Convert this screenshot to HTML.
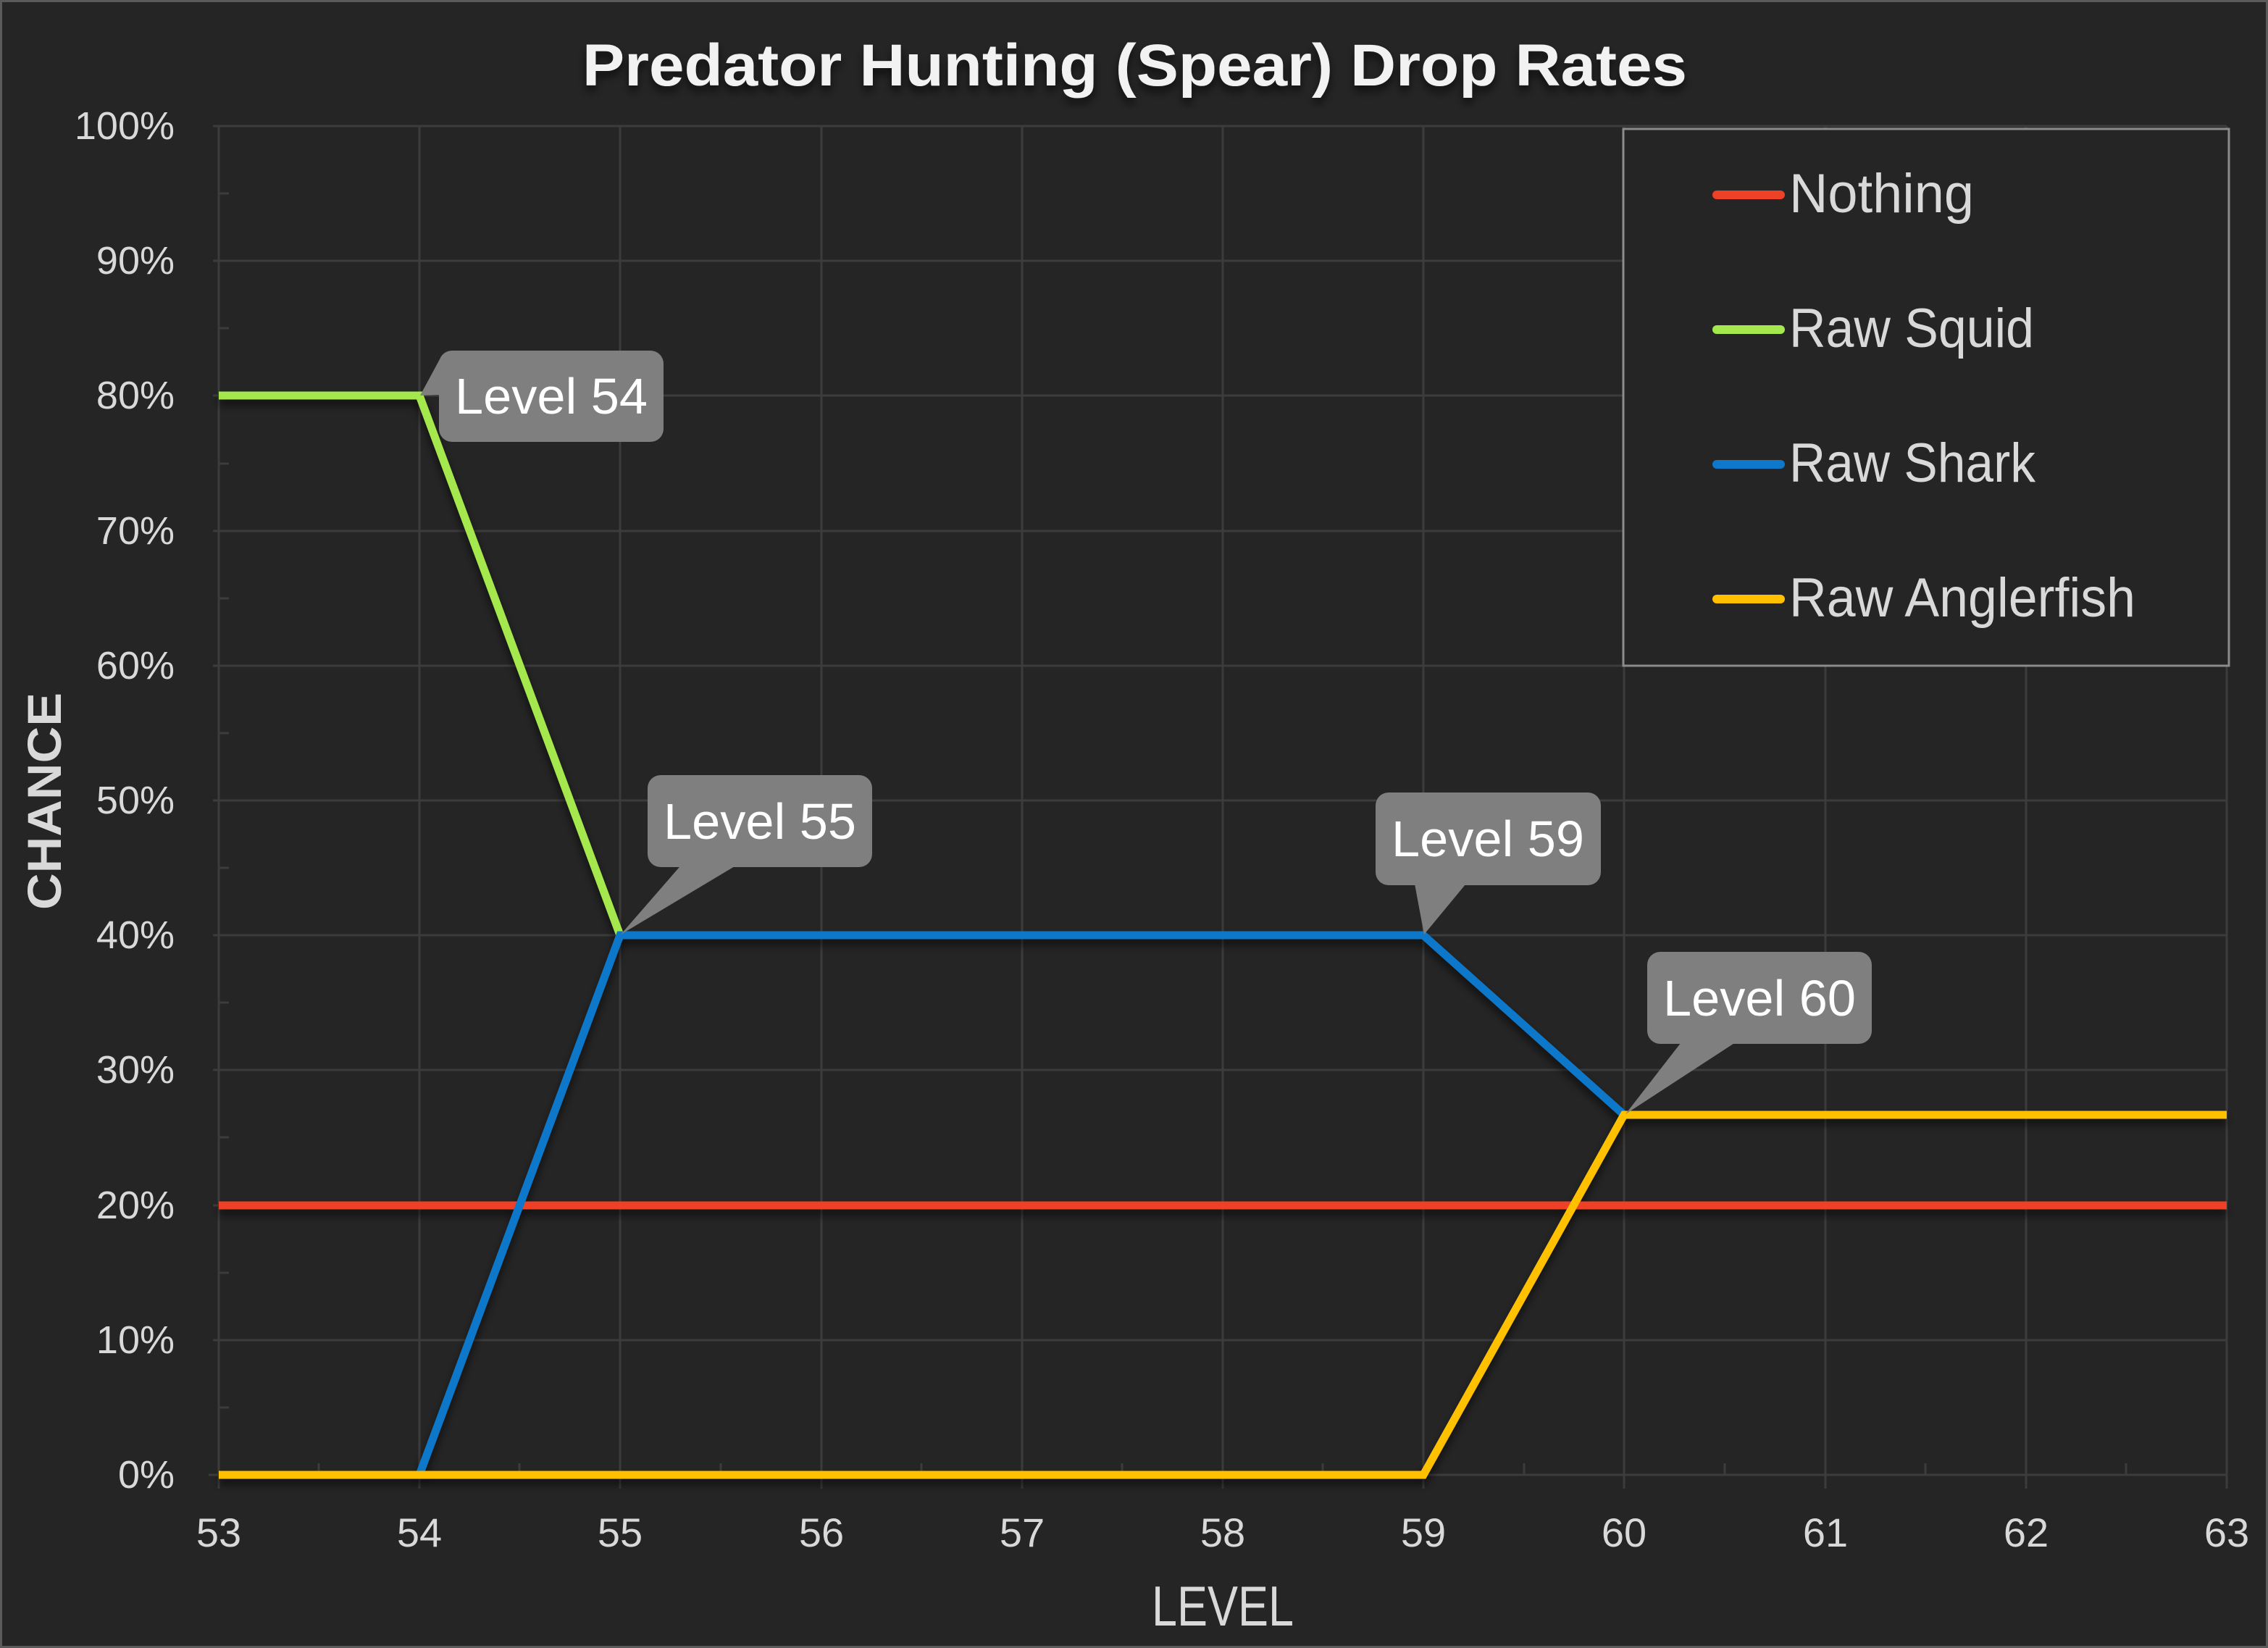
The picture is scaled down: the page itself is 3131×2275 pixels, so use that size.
<!DOCTYPE html>
<html><head><meta charset="utf-8"><style>html,body{margin:0;padding:0;background:#252525}svg{display:block}</style></head><body>
<svg width="3131" height="2275" viewBox="0 0 3131 2275" xmlns="http://www.w3.org/2000/svg" font-family="'Liberation Sans', sans-serif">
<defs><filter id="sh" x="-5%" y="-5%" width="110%" height="120%"><feDropShadow dx="0" dy="8" stdDeviation="6" flood-color="#000" flood-opacity="0.6"/></filter></defs>
<rect x="0" y="0" width="3131" height="2275" fill="#252525"/>
<rect x="1.5" y="1.5" width="3128" height="2272" fill="none" stroke="#5a5a5a" stroke-width="3"/>
<g stroke="#3c3c3c" stroke-width="3">
<line x1="294" y1="174" x2="3074" y2="174"/><line x1="294" y1="360" x2="3074" y2="360"/><line x1="294" y1="546" x2="3074" y2="546"/><line x1="294" y1="733" x2="3074" y2="733"/><line x1="294" y1="919" x2="3074" y2="919"/><line x1="294" y1="1105" x2="3074" y2="1105"/><line x1="294" y1="1291" x2="3074" y2="1291"/><line x1="294" y1="1477" x2="3074" y2="1477"/><line x1="294" y1="1664" x2="3074" y2="1664"/><line x1="294" y1="1850" x2="3074" y2="1850"/><line x1="288" y1="2036" x2="3074" y2="2036"/>
<line x1="302" y1="174" x2="302" y2="2055"/><line x1="579" y1="174" x2="579" y2="2055"/><line x1="856" y1="174" x2="856" y2="2055"/><line x1="1134" y1="174" x2="1134" y2="2055"/><line x1="1411" y1="174" x2="1411" y2="2055"/><line x1="1688" y1="174" x2="1688" y2="2055"/><line x1="1965" y1="174" x2="1965" y2="2055"/><line x1="2242" y1="174" x2="2242" y2="2055"/><line x1="2520" y1="174" x2="2520" y2="2055"/><line x1="2797" y1="174" x2="2797" y2="2055"/><line x1="3074" y1="174" x2="3074" y2="2055"/>
</g>
<g stroke="#3c3c3c" stroke-width="3">
<line x1="302" y1="267" x2="316" y2="267"/><line x1="302" y1="453" x2="316" y2="453"/><line x1="302" y1="640" x2="316" y2="640"/><line x1="302" y1="826" x2="316" y2="826"/><line x1="302" y1="1012" x2="316" y2="1012"/><line x1="302" y1="1198" x2="316" y2="1198"/><line x1="302" y1="1384" x2="316" y2="1384"/><line x1="302" y1="1570" x2="316" y2="1570"/><line x1="302" y1="1757" x2="316" y2="1757"/><line x1="302" y1="1943" x2="316" y2="1943"/>
<line x1="440" y1="2020" x2="440" y2="2036"/><line x1="717" y1="2020" x2="717" y2="2036"/><line x1="995" y1="2020" x2="995" y2="2036"/><line x1="1272" y1="2020" x2="1272" y2="2036"/><line x1="1549" y1="2020" x2="1549" y2="2036"/><line x1="1826" y1="2020" x2="1826" y2="2036"/><line x1="2104" y1="2020" x2="2104" y2="2036"/><line x1="2381" y1="2020" x2="2381" y2="2036"/><line x1="2658" y1="2020" x2="2658" y2="2036"/><line x1="2935" y1="2020" x2="2935" y2="2036"/>
</g>
<g fill="#d9d9d9" font-size="54" text-anchor="end">
<text x="241" y="192">100%</text><text x="241" y="378">90%</text><text x="241" y="564">80%</text><text x="241" y="751">70%</text><text x="241" y="937">60%</text><text x="241" y="1123">50%</text><text x="241" y="1309">40%</text><text x="241" y="1495">30%</text><text x="241" y="1682">20%</text><text x="241" y="1868">10%</text><text x="241" y="2054">0%</text>
</g>
<g fill="#d9d9d9" font-size="56" text-anchor="middle">
<text x="302" y="2135">53</text><text x="579" y="2135">54</text><text x="856" y="2135">55</text><text x="1134" y="2135">56</text><text x="1411" y="2135">57</text><text x="1688" y="2135">58</text><text x="1965" y="2135">59</text><text x="2242" y="2135">60</text><text x="2520" y="2135">61</text><text x="2797" y="2135">62</text><text x="3074" y="2135">63</text>
</g>
<text x="804" y="118" font-size="82" font-weight="bold" fill="#f2f2f2" textLength="1525" lengthAdjust="spacingAndGlyphs" filter="url(#sh)">Predator Hunting (Spear) Drop Rates</text>
<text x="1688" y="2244" font-size="78" fill="#d9d9d9" text-anchor="middle" textLength="196" lengthAdjust="spacingAndGlyphs">LEVEL</text>
<text transform="translate(84,1106) rotate(-90)" font-size="66" font-weight="bold" fill="#d9d9d9" text-anchor="middle" textLength="300" lengthAdjust="spacingAndGlyphs">CHANCE</text>
<g fill="none" stroke-width="11" stroke-linejoin="miter" filter="url(#sh)">
<polyline stroke="#EE4125" points="302,1664 3074,1664"/>
<polyline stroke="#A5E84E" points="302,546 579,546 856,1291 1965,1291"/>
<polyline stroke="#0E78CA" points="302,2036 579,2036 856,1291 1965,1291 2242,1539 3074,1539"/>
<polyline stroke="#FFC000" points="302,2036 1965,2036 2242,1539 3074,1539"/>
</g>
<g fill="#7f7f7f">
<rect x="606" y="484" width="310" height="126" rx="18"/><polygon points="607,496 607,545 580,546"/>
<rect x="894" y="1070" width="310" height="127" rx="18"/><polygon points="944,1190 1024,1190 857,1290"/>
<rect x="1899" y="1094" width="311" height="128" rx="18"/><polygon points="1952,1215 2028,1215 1966,1290"/>
<rect x="2274" y="1314" width="310" height="127" rx="18"/><polygon points="2324,1435 2402,1435 2244,1538"/>
</g>
<g fill="#ffffff" font-size="70" text-anchor="middle">
<text x="761" y="571" textLength="266" lengthAdjust="spacingAndGlyphs">Level 54</text>
<text x="1049" y="1158" textLength="266" lengthAdjust="spacingAndGlyphs">Level 55</text>
<text x="2054" y="1182" textLength="266" lengthAdjust="spacingAndGlyphs">Level 59</text>
<text x="2429" y="1402" textLength="266" lengthAdjust="spacingAndGlyphs">Level 60</text>
</g>
<rect x="2241" y="178" width="836" height="741" fill="#252525" stroke="#8c8c8c" stroke-width="3"/>
<g stroke-width="12" stroke-linecap="round">
<line x1="2370" y1="269" x2="2458" y2="269" stroke="#EE4125"/>
<line x1="2370" y1="455" x2="2458" y2="455" stroke="#A5E84E"/>
<line x1="2370" y1="641" x2="2458" y2="641" stroke="#0E78CA"/>
<line x1="2370" y1="827" x2="2458" y2="827" stroke="#FFC000"/>
</g>
<g fill="#d9d9d9" font-size="76">
<text x="2470" y="293" textLength="255" lengthAdjust="spacingAndGlyphs">Nothing</text>
<text x="2470" y="479" textLength="338" lengthAdjust="spacingAndGlyphs">Raw Squid</text>
<text x="2470" y="665" textLength="340" lengthAdjust="spacingAndGlyphs">Raw Shark</text>
<text x="2470" y="851" textLength="478" lengthAdjust="spacingAndGlyphs">Raw Anglerfish</text>
</g>
</svg>
</body></html>
